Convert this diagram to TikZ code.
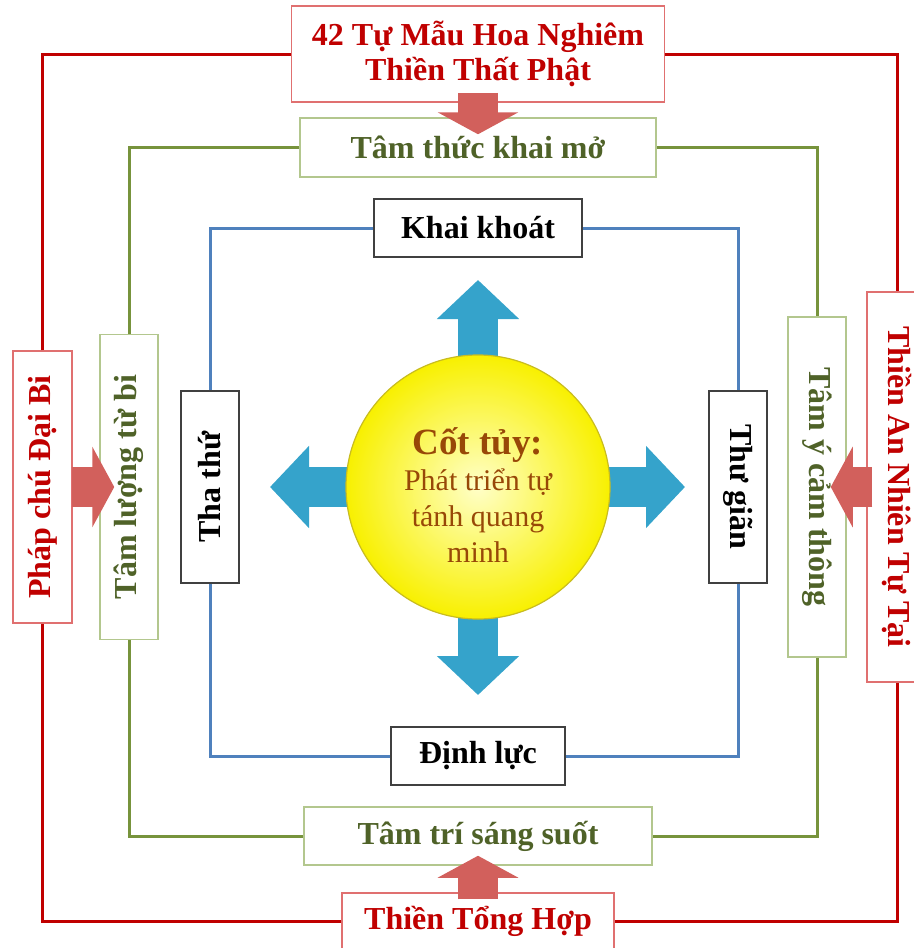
\documentclass[tikz,border=0pt]{standalone}
\usepackage{fontspec}
\setmainfont{Liberation Serif}
\usetikzlibrary{arrows.meta,backgrounds,positioning}
\definecolor{mdRed}{HTML}{C00000}
\definecolor{mdRedEdge}{HTML}{E07070}
\definecolor{mdGreen}{HTML}{4F6228}
\definecolor{mdGreenLine}{HTML}{77933C}
\definecolor{mdGreenEdge}{HTML}{B3C78E}
\definecolor{mdBlue}{HTML}{4F81BD}
\definecolor{mdGrey}{HTML}{404040}
\definecolor{mdBrown}{HTML}{984807}
\definecolor{mdGlow}{HTML}{FFFFC8}
\definecolor{mdYellow}{HTML}{F8F000}
\definecolor{mdRim}{HTML}{C8BC20}
\definecolor{mdArrow}{HTML}{35A3CB}
\definecolor{mdPush}{HTML}{D2605C}
\tikzset{
  md box/.style={
    draw, fill=white, line width=.75pt, inner sep=0pt, align=center,
    font=\bfseries\fontsize{16}{17.5}\selectfont
  },
  md outer/.style={md box, draw=mdRedEdge, text=mdRed},
  md middle/.style={md box, draw=mdGreenEdge, text=mdGreen},
  md inner/.style={md box, draw=mdGrey, text=black},
  md frame/.style={line width=1.5pt},
  md core/.style={
    circle, minimum size=132pt, inner sep=0pt,
    inner color=mdGlow, outer color=mdYellow,
    draw=mdRim, line width=.6pt,
    text=mdBrown, align=center, font=\fontsize{15}{18}\selectfont
  },
  md ray/.style={
    draw=mdArrow, line width=20pt,
    -{Triangle[length=19.5pt,width=40pt]}
  },
  md push/.style={
    draw=mdPush, line width=20pt,
    -{Triangle[length=11pt,width=40pt]}
  }
}

\begin{document}
\begin{tikzpicture}[x=.5pt,y=-.5pt]
  \useasboundingbox (0,0) rectangle (914,948);

  % outer ring
  \node[md outer, minimum width=186.5pt, minimum height=48pt] (topR) at (478,54)
    {42 Tự Mẫu Hoa Nghiêm\\Thiền Thất Phật};
  \node[md outer, minimum width=136pt, minimum height=28pt] (botR) at (478,921)
    {Thiền Tổng Hợp};
  \node[md outer, minimum width=29.5pt, minimum height=136pt] (leftR) at (42.5,487)
    {\rotatebox{90}{Pháp chú Đại Bi}};
  \node[md outer, minimum width=30pt, minimum height=195pt] (rightR) at (897,487)
    {\rotatebox{-90}{Thiền An Nhiên Tự Tại}};

  % middle ring
  \node[md middle, minimum width=178pt, minimum height=29.5pt] (topG) at (478,147.5)
    {Tâm thức khai mở};
  \node[md middle, minimum width=174pt, minimum height=29pt] (botG) at (478,836)
    {Tâm trí sáng suốt};
  \node[md middle, minimum width=29pt, minimum height=152.5pt] (leftG) at (129,487)
    {\rotatebox{90}{Tâm lượng từ bi}};
  \node[md middle, minimum width=29pt, minimum height=170pt] (rightG) at (817,487)
    {\rotatebox{-90}{Tâm ý cảm thông}};

  % inner ring
  \node[md inner, minimum width=104pt, minimum height=29pt] (topB) at (478,228) {Khai khoát};
  \node[md inner, minimum width=87pt, minimum height=29pt] (botB) at (478,756) {Định lực};
  \node[md inner, minimum width=29pt, minimum height=96pt] (leftB) at (210,487)
    {\rotatebox{90}{Tha thứ}};
  \node[md inner, minimum width=29pt, minimum height=96pt] (rightB) at (738,487)
    {\rotatebox{-90}{Thư giãn}};

  \draw[md frame, draw=mdRed] (topR.east) -| (rightR.north) (rightR.south) |- (botR.east)
    (botR.west) -| (leftR.south) (leftR.north) |- (topR.west);
  \draw[md frame, draw=mdGreenLine] (topG.east) -| (rightG.north) (rightG.south) |- (botG.east)
    (botG.west) -| (leftG.south) (leftG.north) |- (topG.west);
  \draw[md frame, draw=mdBlue] (topB.east) -| (rightB.north) (rightB.south) |- (botB.east)
    (botB.west) -| (leftB.south) (leftB.north) |- (topB.west);

  % core and its rays
  \node[md core] (core) at (478,487)
    {{\bfseries\fontsize{18.5}{20}\selectfont\rule{0pt}{21pt}Cốt tủy:}\\Phát triển tự\\tánh quang\\minh};
  \coordinate (rayN) at (478,280);
  \coordinate (rayE) at (685,487);
  \coordinate (rayS) at (478,695);
  \coordinate (rayW) at (270,487);
  \begin{scope}[on background layer]
    \foreach \ray in {rayN,rayE,rayS,rayW}
      \draw[md ray] (core.center) -- (\ray);
  \end{scope}

  % pushes from the outer ring
  \draw[md push, shorten <=-5pt, shorten >=-8.5pt] (topR.south) -- (topG.north);
  \draw[md push, shorten <=-.5pt, shorten >=-7.5pt] (leftR.east) -- (leftG.west);
  \draw[md push, shorten <=-3pt, shorten >=-8pt] (rightR.west) -- (rightG.east);
  \draw[md push, shorten <=-3.5pt, shorten >=-5pt] (botR.north) -- (botG.south);
\end{tikzpicture}
\end{document}
